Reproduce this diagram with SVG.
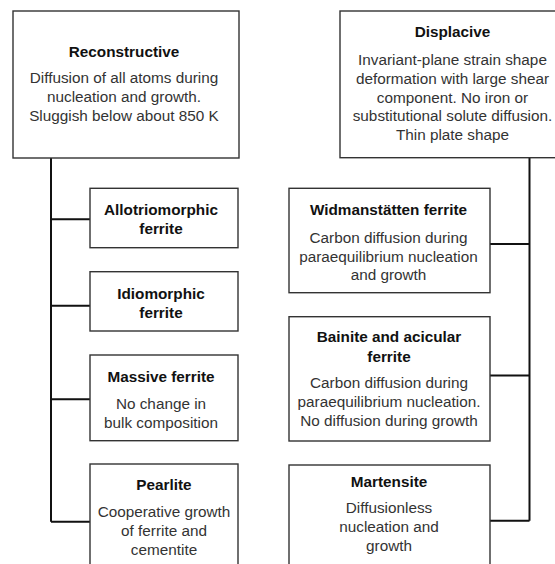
<svg xmlns="http://www.w3.org/2000/svg" width="555" height="564" viewBox="0 0 555 564">
<style>
.box{fill:#fff;stroke:#333;stroke-width:1.4}
.conn{fill:none;stroke:#111;stroke-width:2}
text{font-family:"Liberation Sans",Arial,sans-serif;font-size:15.3px;fill:#111;text-anchor:middle}
.t{font-weight:bold}
.b{fill:#333}
</style>
<rect width="555" height="564" fill="#fff"/>
<g id="connectors">
<path class="conn" d="M51,158 V521.7 M51,219.3 H90 M51,305.7 H90 M51,399.3 H90 M51,521.7 H90"/>
<path class="conn" d="M529.5,158 V520.7 M490,244 H529.5 M490,375.5 H529.5 M490,520.7 H529.5"/>
</g>
<g id="reconstructive">
<rect class="box" x="13" y="11" width="226" height="147"/>
<text class="t" x="124" y="57.3">Reconstructive</text>
<text class="b" x="124" y="83.3">Diffusion of all atoms during</text>
<text class="b" x="124" y="102">nucleation and growth.</text>
<text class="b" x="124" y="121">Sluggish below about 850 K</text>
</g>
<g id="allotriomorphic">
<rect class="box" x="90" y="188.3" width="148" height="59.4"/>
<text class="t" x="161" y="215">Allotriomorphic</text>
<text class="t" x="161" y="234">ferrite</text>
</g>
<g id="idiomorphic">
<rect class="box" x="90" y="271.7" width="148" height="59.3"/>
<text class="t" x="161" y="299">Idiomorphic</text>
<text class="t" x="161" y="317.5">ferrite</text>
</g>
<g id="massive">
<rect class="box" x="90" y="355" width="148" height="85.7"/>
<text class="t" x="161" y="382.3">Massive ferrite</text>
<text class="b" x="161" y="409.3">No change in</text>
<text class="b" x="161" y="428.3">bulk composition</text>
</g>
<g id="pearlite">
<rect class="box" x="90" y="464" width="148" height="110"/>
<text class="t" x="164" y="490">Pearlite</text>
<text class="b" x="164" y="517.3">Cooperative growth</text>
<text class="b" x="164" y="536.2">of ferrite and</text>
<text class="b" x="164" y="555">cementite</text>
</g>
<g id="displacive">
<rect class="box" x="340" y="11" width="230" height="146.7"/>
<text class="t" x="452.5" y="36.7">Displacive</text>
<text class="b" x="452.5" y="65">Invariant-plane strain shape</text>
<text class="b" x="452.5" y="84">deformation with large shear</text>
<text class="b" x="452.5" y="102.7">component. No iron or</text>
<text class="b" x="452.5" y="121.3">substitutional solute diffusion.</text>
<text class="b" x="452.5" y="140">Thin plate shape</text>
</g>
<g id="widmanstatten">
<rect class="box" x="289" y="188.3" width="201" height="104.4"/>
<text class="t" x="388.5" y="215">Widmanstätten ferrite</text>
<text class="b" x="388.5" y="242.7">Carbon diffusion during</text>
<text class="b" x="388.5" y="261.7">paraequilibrium nucleation</text>
<text class="b" x="388.5" y="280.3">and growth</text>
</g>
<g id="bainite">
<rect class="box" x="289" y="316.7" width="201" height="124.3"/>
<text class="t" x="389" y="342.3">Bainite and acicular</text>
<text class="t" x="389" y="361.5">ferrite</text>
<text class="b" x="389" y="388.3">Carbon diffusion during</text>
<text class="b" x="389" y="407.3">paraequilibrium nucleation.</text>
<text class="b" x="389" y="426">No diffusion during growth</text>
</g>
<g id="martensite">
<rect class="box" x="289" y="465" width="201" height="110"/>
<text class="t" x="389" y="486.7">Martensite</text>
<text class="b" x="389" y="513.3">Diffusionless</text>
<text class="b" x="389" y="532.3">nucleation and</text>
<text class="b" x="389" y="551">growth</text>
</g>
</svg>
